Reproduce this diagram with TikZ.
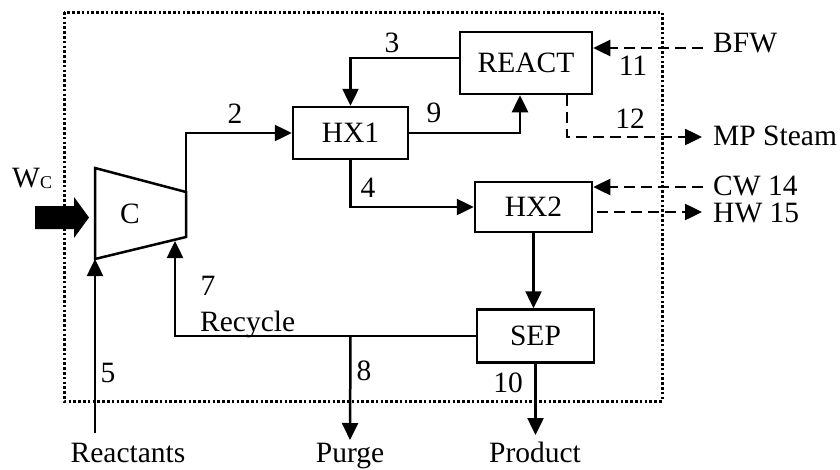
\documentclass[tikz,border=0pt]{standalone}
\usepackage{fontspec}
\setmainfont{Liberation Serif}
\usetikzlibrary{arrows.meta}
\begin{document}
\begin{tikzpicture}[x=1pt,y=-1pt,
  every node/.style={font=\fontsize{29.5}{32}\selectfont, inner sep=0pt},
  unit/.style={draw, line width=2.5pt, inner sep=0pt},
  line/.style={line width=2.5pt},
  flow/.style={line width=2.5pt, -{Triangle[length=17pt,width=16pt]}},
  util/.style={flow, dash pattern=on 11pt off 6pt},
  lbl/.style={anchor=base},
  lblw/.style={anchor=base west}]
\useasboundingbox (0,0) rectangle (840,469);
% boundary
\draw[line width=3pt, dash pattern=on 2.6pt off 2.2pt] (64,12) rectangle (662,401);
% units
\node[unit, minimum width=115pt, minimum height=52pt] (HX1) at (350.5,133) {HX1};
\node[unit, minimum width=132pt, minimum height=62pt] (REACT) at (526,63) {REACT};
\node[unit, minimum width=117pt, minimum height=50pt] (HX2) at (533.5,207) {HX2};
\node[unit, minimum width=117pt, minimum height=53pt] (SEP) at (535.5,336) {SEP};
% compressor
\coordinate (ctl) at (95,168);
\coordinate (ctr) at (186,192);
\coordinate (cbr) at (186,237);
\coordinate (cbl) at (95,259);
\draw[line] (ctl) -- (ctr) -- (cbr) -- (cbl) -- cycle;
\node (C) at (130,214) {C};
% work arrow
\fill (35,206) -- (74,206) -- (74,197) -- (89,217.5) -- (74,238) -- (74,229) -- (35,229) -- cycle;
\node[lblw] (wc) at (12,187) {W\raisebox{-1pt}{\fontsize{18}{20}\selectfont C}};
% process streams
\draw[flow] (ctr) |- (HX1.west);
\draw[flow] ([yshift=5pt]REACT.west) -| (HX1.north);
\draw[flow] (HX1.east) -| ([xshift=-6pt]REACT.south);
\draw[flow] (HX1.south) |- (HX2.west);
\draw[flow] (HX2.south) -- (HX2.south |- SEP.north);
\coordinate (rtip) at (175,241);
\draw[flow] (SEP.west) -| (rtip);
\coordinate (split) at (HX1.south |- SEP.west);
\coordinate (purgeend) at (350,440);
\draw[flow] (split) -- (purgeend);
\coordinate (prodend) at (535,435);
\draw[flow] (SEP.south) -- (SEP.south |- prodend);
\coordinate (reac) at (95,433);
\draw[flow] (reac) -- (cbl);
% utilities
\coordinate (bfwS) at (703,48);
\draw[util] (bfwS) -- (REACT.east |- bfwS);
\coordinate (mpE) at (702,137);
\draw[util] ([xshift=41pt]REACT.south) |- (mpE);
\coordinate (cwS) at (703,187);
\draw[util] (cwS) -- (HX2.east |- cwS);
\coordinate (hwS) at (597,212);
\coordinate (hwE) at (702,212);
\draw[util] (hwS) -- (hwE);
% labels
\node[lbl] (n2) at (235,123) {2};
\node[lbl] (n3) at (392,52) {3};
\node[lbl] (n9) at (434,122) {9};
\node[lbl] (n4) at (368,197) {4};
\node[lbl] (n11) at (633,75) {11};
\node[lbl] (n12) at (630,128) {12};
\node[lbl] (n7) at (208,295) {7};
\node[lbl] (n5) at (108,382) {5};
\node[lbl] (n8) at (364,380) {8};
\node[lbl] (n10) at (508,392) {10};
\node[lblw] (rec) at (200,331) {Recycle};
\node[lblw] (bfw) at (713,52) {BFW};
\node[lblw] (mp) at (713,145) {MP Steam};
\node[lblw] (cw) at (713,195) {CW 14};
\node[lblw] (hw) at (713,222) {HW 15};
\node[lbl] (reactants) at (128,462) {Reactants};
\node[lbl] (purge) at (350,462) {Purge};
\node[lbl] (product) at (535,462) {Product};
\end{tikzpicture}
\end{document}
